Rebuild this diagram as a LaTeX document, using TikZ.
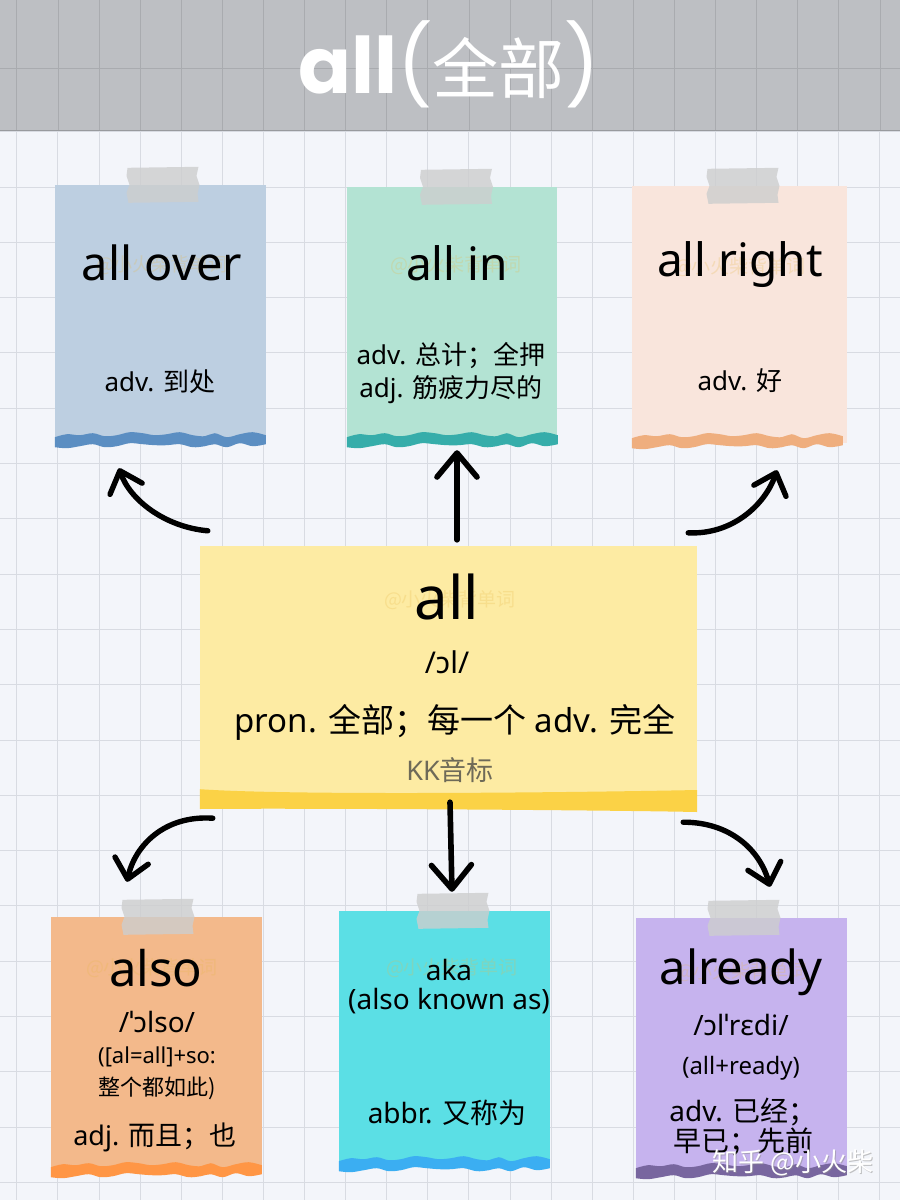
\documentclass[tikz,border=0pt]{standalone}
\usepackage{fontspec}
\setmainfont{Noto Sans}
\newfontfamily\cjk{Noto Sans CJK SC}
\newfontfamily\pop{Poppins}
\usetikzlibrary{arrows.meta,calc}
\definecolor{bgc}{HTML}{F3F5FA}
\definecolor{gridc}{HTML}{D8DBE2}
\definecolor{headc}{HTML}{BDBFC3}
\definecolor{headgrid}{HTML}{A9ABAF}
\definecolor{c1}{HTML}{BDCFE1}\definecolor{w1}{HTML}{5B8EC2}
\definecolor{c2}{HTML}{B3E3D3}\definecolor{w2}{HTML}{36ADAA}
\definecolor{c3}{HTML}{F9E5DC}\definecolor{w3}{HTML}{EFAE7E}
\definecolor{cc}{HTML}{FDEBA3}\definecolor{wc}{HTML}{FBD246}
\definecolor{c4}{HTML}{F3B98B}\definecolor{w4}{HTML}{FF9645}
\definecolor{c5}{HTML}{5BDFE5}\definecolor{w5}{HTML}{3BAEF2}
\definecolor{c6}{HTML}{C6B3EE}\definecolor{w6}{HTML}{78669F}
\definecolor{kkc}{HTML}{6E6A58}
\definecolor{tapec}{HTML}{CDCECE}
\definecolor{wmc}{HTML}{E8B84A}
\newcommand\fsz[1]{\fontsize{#1}{#1}\selectfont}
\newcommand\cardwave[2]{%
  \begin{scope}[shift={(#1.south west)}]
    \fill[#2] plot[smooth,tension=.6] coordinates {(0,-5)(12,-8)(25,-7)(38,-9)(50,-6)(62,-7)(75,-10)(88,-9)(100,-7)(112,-8)(125,-10)(138,-7)(150,-6)(160,-9)(172,-5)(185,-8)(198,-10)(211,-7)}
      -- plot[smooth,tension=.6] coordinates {(211,2)(198,4)(185,1)(172,5)(160,2)(150,4)(138,5)(125,2)(112,3)(100,3)(88,2)(75,1)(62,4)(50,5)(38,2)(25,4)(12,6)(0,5)} -- cycle;
  \end{scope}}
\newcommand\tapeat[1]{%
  \begin{scope}[shift={(#1)}]
    \fill[tapec,opacity=.8] (-35,-17)--(36,-18)--(34,-9)--(37,0)--(35,9)--(36,17)--(-34,18)--(-36,8)--(-33,0)--(-36,-9)--cycle;
  \end{scope}}
\begin{document}
\begin{tikzpicture}[x=1pt,y=-1pt,
  card/.style={rectangle,inner sep=0pt,draw=none},
  txt/.style={inner sep=0pt,text=black},
  wm/.style={inner sep=0pt,text=wmc,opacity=.25,font=\cjk\fsz{19}},
  arr/.style={line width=5.4pt,line cap=round,-{Straight Barb[length=19pt,width=34pt,line cap=round,line join=round]}},
  varr/.style={line width=5.6pt,line cap=round,-{Straight Barb[length=24pt,width=40pt,line cap=round,line join=round]}}]
\useasboundingbox (0,0) rectangle (900,1200);
% background
\fill[bgc] (0,0) rectangle (900,1200);
\foreach \i in {0,...,21} \draw[gridc,line width=1pt] ({16.8+41.1*\i},131) -- ({16.8+41.1*\i},1200);
\foreach \j in {0,...,19} \draw[gridc,line width=1pt] (0,{131.7+55.3*\j}) -- (900,{131.7+55.3*\j});
% header
\fill[headc] (0,0) rectangle (900,131);
\foreach \i in {0,...,21} \draw[headgrid,line width=.8pt] ({16.8+41.1*\i},0) -- ({16.8+41.1*\i},131);
\draw[headgrid,line width=.8pt] (0,68) -- (900,68);
\draw[headgrid!90!black,line width=1pt] (0,130.5) -- (900,130.5);
\node[inner sep=0pt,text=white] (title) at (449,64)
  {{\pop\bfseries\fsz{78}all}{\pop\fsz{78}(}{\cjk\fsz{66}全部}{\pop\fsz{78})}};

% cards
\node[card,fill=c1,minimum width=211pt,minimum height=257pt] (over) at (160.5,313.5) {};
\node[card,fill=c2,minimum width=210pt,minimum height=255pt] (in) at (452,314.5) {};
\node[card,fill=c3,minimum width=215pt,minimum height=257pt] (right) at (739.5,314.5) {};
\node[card,fill=cc,minimum width=497pt,minimum height=250pt] (all) at (448.5,671) {};
\node[card,fill=c4,minimum width=211pt,minimum height=255pt] (also) at (156.5,1044.5) {};
\node[card,fill=c5,minimum width=211pt,minimum height=255pt] (aka) at (444.5,1038.5) {};
\node[card,fill=c6,minimum width=211pt,minimum height=255pt] (already) at (741.5,1045.5) {};

\cardwave{over}{w1}
\cardwave{in}{w2}
\cardwave{right}{w3}
\cardwave{also}{w4}
\cardwave{aka}{w5}
\cardwave{already}{w6}
% center band
\fill[wc] (all.south west) ++(0,-7) .. controls (300,796) and (600,792) .. (697,790)
  -- (697,812) .. controls (600,810) and (300,808) .. (200,809) -- cycle;

\tapeat{$(over.north)+(2,0)$}
\tapeat{$(in.north)+(4,0)$}
\tapeat{$(right.north)+(3,0)$}
\tapeat{$(also.north)+(1,0)$}
\tapeat{$(aka.north)+(8,0)$}
\tapeat{$(already.north)+(2,0)$}

% faint watermarks
\node[wm] (wm1) at (162,265) {@小火柴背单词};
\node[wm] (wm2) at (456,265) {@小火柴背单词};
\node[wm] (wm3) at (740,267) {@小火柴背单词};
\node[wm] (wm4) at (450,600) {@小火柴背单词};
\node[wm] (wm5) at (152,968) {@小火柴背单词};
\node[wm] (wm6) at (452,968) {@小火柴背单词};
\node[wm] (wm7) at (742,972) {@小火柴背单词};

% texts
\node[txt,font=\fsz{47}] (t1a) at (162,263) {all over};
\node[txt,font=\fsz{26}] (t1b) at (160,382) {adv. {\cjk 到处}};
\node[txt,font=\fsz{46}] (t2a) at (457,263) {all in};
\node[txt,font=\fsz{26}] (t2b) at (451,356) {adv. {\cjk 总计；全押}};
\node[txt,font=\fsz{26}] (t2c) at (451,390) {adj. {\cjk 筋疲力尽的}};
\node[txt,font=\fsz{46}] (t3a) at (740,265) {all right};
\node[txt,font=\fsz{26}] (t3b) at (740,381) {adv. {\cjk 好}};

\node[txt,font=\fsz{60}] (t0a) at (447,597) {all};
\node[txt,font=\fsz{30}] (t0b) at (447,662) {/ɔl/};
\node[txt,font=\fsz{33}] (t0c) at (455,722) {pron. {\cjk 全部；每一个} adv. {\cjk 完全}};
\node[txt,font=\fsz{27},text=kkc] (t0d) at (450,770) {KK{\cjk 音标}};

\node[txt,font=\fsz{49}] (t4a) at (156,968) {also};
\node[txt,font=\fsz{28}] (t4b) at (157,1022) {/ˈɔlso/};
\node[txt,font=\fsz{22}] (t4c) at (157,1057) {([al=all]+so:};
\node[txt,font=\cjk\fsz{22}] (t4d) at (157,1088) {整个都如此)};
\node[txt,font=\fsz{27}] (t4e) at (155,1137) {adj. {\cjk 而且；也}};

\node[txt,font=\fsz{28}] (t5a) at (449,970) {aka};
\node[txt,font=\fsz{28}] (t5b) at (449,1001) {(also known as)};
\node[txt,font=\fsz{28}] (t5c) at (447,1113) {abbr. {\cjk 又称为}};

\node[txt,font=\fsz{47}] (t6a) at (741,972) {already};
\node[txt,font=\fsz{28}] (t6b) at (741,1025) {/ɔlˈrɛdi/};
\node[txt,font=\fsz{24}] (t6c) at (741,1068) {(all+ready)};
\node[txt,font=\fsz{28}] (t6d) at (743,1112) {adv. {\cjk 已经；}};
\node[txt,font=\cjk\fsz{28}] (t6e) at (743,1142) {早已；先前};

% connector anchors
\coordinate (s1) at ($(all.north west)+(8,-15)$);
\coordinate (e1) at ($(over.south)+(-41.5,26)$);
\coordinate (s2) at ($(all.north)+(8.5,-6)$);
\coordinate (e2) at ($(in.south)+(5,8)$);
\coordinate (s3) at ($(all.north east)+(-9,-13)$);
\coordinate (e3) at ($(right.south)+(37.5,27)$);
\coordinate (s4) at ($(all.south west)+(13,22)$);
\coordinate (e4) at ($(also.north)+(-29.5,-35)$);
\coordinate (s5) at ($(all.south)+(1.5,6)$);
\coordinate (e5) at ($(aka.north)+(7.5,-19)$);
\coordinate (s6) at ($(all.south east)+(-14,26)$);
\coordinate (e6) at ($(already.north)+(28.5,-31)$);

\draw[arr] (s1) .. controls (165,527) and (130,500) .. (e1);
\draw[varr] (s2) -- (e2);
\draw[arr] (s3) .. controls (732,535) and (765,505) .. (e3);
\draw[arr] (s4) .. controls (165,815) and (135,845) .. (e4);
\draw[varr] (s5) -- (e5);
\draw[arr] (s6) .. controls (730,822) and (760,850) .. (e6);

% site watermark
\node[inner sep=0pt,text=black!45,opacity=.5,font=\cjk\fsz{26}] (wmk2) at (794,1164) {知乎 @小火柴};
\node[inner sep=0pt,text=white,font=\cjk\fsz{26}] (wmk) at (793,1163) {知乎 @小火柴};
\end{tikzpicture}
\end{document}
